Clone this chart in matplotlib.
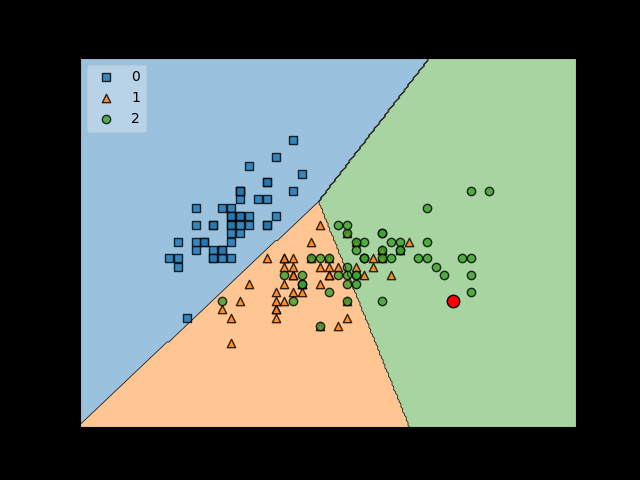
'''
Decision regions of a linear 3-class model on sepal length / sepal width,
with one new sample highlighted.
'''
import numpy as np
import matplotlib
matplotlib.use('Agg')
import matplotlib.pyplot as plt

# sepal length, sepal width per class
X0_LEN = [5.1, 4.9, 4.7, 4.6, 5.0, 5.4, 4.6, 5.0, 4.4, 4.9, 5.4, 4.8, 4.8, 4.3, 5.8, 5.7, 5.4,
          5.1, 5.7, 5.1, 5.4, 5.1, 4.6, 5.1, 4.8, 5.0, 5.0, 5.2, 5.2, 4.7, 4.8, 5.4, 5.2, 5.5,
          4.9, 5.0, 5.5, 4.9, 4.4, 5.1, 5.0, 4.5, 4.4, 5.0, 5.1, 4.8, 5.1, 4.6, 5.3, 5.0]
X0_WID = [3.5, 3.0, 3.2, 3.1, 3.6, 3.9, 3.4, 3.4, 2.9, 3.1, 3.7, 3.4, 3.0, 3.0, 4.0, 4.4, 3.9,
          3.5, 3.8, 3.8, 3.4, 3.7, 3.6, 3.3, 3.4, 3.0, 3.4, 3.5, 3.4, 3.2, 3.1, 3.4, 4.1, 4.2,
          3.1, 3.2, 3.5, 3.6, 3.0, 3.4, 3.5, 2.3, 3.2, 3.5, 3.8, 3.0, 3.8, 3.2, 3.7, 3.3]
X1_LEN = [7.0, 6.4, 6.9, 5.5, 6.5, 5.7, 6.3, 4.9, 6.6, 5.2, 5.0, 5.9, 6.0, 6.1, 5.6, 6.7, 5.6,
          5.8, 6.2, 5.6, 5.9, 6.1, 6.3, 6.1, 6.4, 6.6, 6.8, 6.7, 6.0, 5.7, 5.5, 5.5, 5.8, 6.0,
          5.4, 6.0, 6.7, 6.3, 5.6, 5.5, 5.5, 6.1, 5.8, 5.0, 5.6, 5.7, 5.7, 6.2, 5.1, 5.7]
X1_WID = [3.2, 3.2, 3.1, 2.3, 2.8, 2.8, 3.3, 2.4, 2.9, 2.7, 2.0, 3.0, 2.2, 2.9, 2.9, 3.1, 3.0,
          2.7, 2.2, 2.5, 3.2, 2.8, 2.5, 2.8, 2.9, 3.0, 2.8, 3.0, 2.9, 2.6, 2.4, 2.4, 2.7, 2.7,
          3.0, 3.4, 3.1, 2.3, 3.0, 2.5, 2.6, 3.0, 2.6, 2.3, 2.7, 3.0, 2.9, 2.9, 2.5, 2.8]
X2_LEN = [6.3, 5.8, 7.1, 6.3, 6.5, 7.6, 4.9, 7.3, 6.7, 7.2, 6.5, 6.4, 6.8, 5.7, 5.8, 6.4, 6.5,
          7.7, 7.7, 6.0, 6.9, 5.6, 7.7, 6.3, 6.7, 7.2, 6.2, 6.1, 6.4, 7.2, 7.4, 7.9, 6.4, 6.3,
          6.1, 7.7, 6.3, 6.4, 6.0, 6.9, 6.7, 6.9, 5.8, 6.8, 6.7, 6.7, 6.3, 6.5, 6.2, 5.9]
X2_WID = [3.3, 2.7, 3.0, 2.9, 3.0, 3.0, 2.5, 2.9, 2.5, 3.6, 3.2, 2.7, 3.0, 2.5, 2.8, 3.2, 3.0,
          3.8, 2.6, 2.2, 3.2, 2.8, 2.8, 2.7, 3.3, 3.2, 2.8, 3.0, 2.8, 3.0, 2.8, 3.8, 2.8, 2.8,
          2.6, 3.0, 3.4, 3.1, 3.0, 3.1, 3.1, 3.1, 2.7, 3.2, 3.3, 3.0, 2.5, 3.0, 3.4, 3.0]

NEW_SAMPLE = [7.5, 2.5]

WEIGHTS = [[0.0, 0.0], [2.643, -2.687], [3.312, -2.431]]
BIASES = [0.0, -5.938, -10.882]

COLORS = ['#1f77b4', '#ff7f0e', '#3ca02c']
MARKERS = ['s', '^', 'o']

X = np.array([X0_LEN + X1_LEN + X2_LEN, X0_WID + X1_WID + X2_WID]).T
y = np.repeat([0, 1, 2], 50)

fig, ax = plt.subplots(figsize=(6.4, 4.8), dpi=100)
fig.patch.set_facecolor('black')

res = 0.02
x_min, x_max = X[:, 0].min() - 1, X[:, 0].max() + 1
y_min, y_max = X[:, 1].min() - 1, X[:, 1].max() + 1
xx, yy = np.meshgrid(np.arange(x_min, x_max, res), np.arange(y_min, y_max, res))
grid = np.c_[xx.ravel(), yy.ravel()]
scores = grid @ np.array(WEIGHTS).T + np.array(BIASES)
Z = scores.argmax(axis=1).reshape(xx.shape)

levels = np.arange(Z.max() + 2) - 0.5
cset = ax.contourf(xx, yy, Z, levels=levels, colors=COLORS, alpha=0.45, antialiased=True)
ax.contour(xx, yy, Z, cset.levels, colors='k', linewidths=0.5, antialiased=True)
ax.set_xlim(xx.min(), xx.max())
ax.set_ylim(yy.min(), yy.max())

for idx in range(3):
    ax.scatter(X[y == idx, 0], X[y == idx, 1], alpha=0.8, c=COLORS[idx],
               edgecolor='black', marker=MARKERS[idx], label=idx)

ax.legend(loc='upper left', framealpha=0.3, scatterpoints=1)
ax.scatter(NEW_SAMPLE[0], NEW_SAMPLE[1], c='red', s=80, edgecolor='black')

fig.savefig('out.png', facecolor=fig.get_facecolor())
